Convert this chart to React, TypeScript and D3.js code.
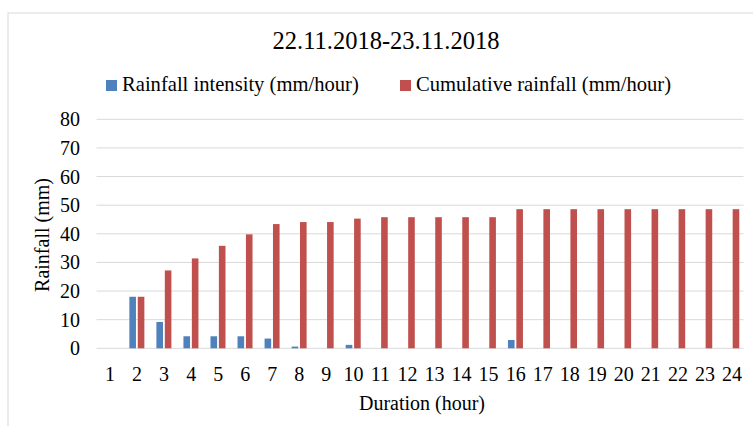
import React from "react";
import * as d3 from "d3";

const hours = ["1","2","3","4","5","6","7","8","9","10","11","12","13","14","15","16","17","18","19","20","21","22","23","24"];
const intensity = [0, 18, 9.2, 4.2, 4.2, 4.2, 3.4, 0.6, 0, 1.2, 0, 0, 0, 0, 0, 2.9, 0, 0, 0, 0, 0, 0, 0, 0];
const cumulative = [0, 18, 27.2, 31.4, 35.8, 39.8, 43.4, 44.1, 44.1, 45.3, 45.8, 45.8, 45.8, 45.8, 45.8, 48.6, 48.6, 48.6, 48.6, 48.6, 48.6, 48.6, 48.6, 48.6];
const yTicks = [0, 10, 20, 30, 40, 50, 60, 70, 80];
const titleText = "22.11.2018-23.11.2018";
const seriesNames = ["Rainfall intensity (mm/hour)", "Cumulative rainfall (mm/hour)"];
const colors = ["#4F81BD", "#C0504D"];

export default function App() {
  const W = 753, H = 426;
  const left = 96.5, right = 745.5, top = 119.3, bottom = 348.3;
  const x = d3.scaleBand().domain(hours).range([left, right]);
  const y = d3.scaleLinear().domain([0, 80]).range([bottom, top]);
  const bw = 6.6;
  const font = "'Liberation Serif', 'Times New Roman', serif";
  return (
    <svg width={W} height={H} style={{ position: "absolute", left: 0, top: 0, background: "#fff" }} fontFamily={font}>
      <rect x={8} y={13} width={W} height={H} fill="#fff" stroke="#d9d9d9" strokeWidth={1} />
      <text x={386} y={49} textAnchor="middle" fontSize={24.5} fill="#000">{titleText}</text>
      {/* legend */}
      <rect x={106} y={80} width={11} height={11} fill={colors[0]} />
      <text x={122} y={91} fontSize={20.6} fill="#000">{seriesNames[0]}</text>
      <rect x={400} y={80} width={11} height={11} fill={colors[1]} />
      <text x={416} y={91} fontSize={20.6} fill="#000">{seriesNames[1]}</text>
      {/* grid */}
      {yTicks.map((t) => (
        <g key={t}>
          <line x1={left} x2={right - 2} y1={y(t)} y2={y(t)} stroke="#d9d9d9" strokeWidth={1} />
          <text x={80} y={y(t)} dy="0.35em" textAnchor="end" fontSize={20} fill="#000">{t}</text>
        </g>
      ))}
      {/* bars */}
      {hours.map((h, i) => {
        const c = (x(h) as number) + x.bandwidth() / 2;
        return (
          <g key={h}>
            {intensity[i] > 0 && (
              <rect x={c - 7.7} y={y(intensity[i])} width={bw} height={bottom - y(intensity[i])} fill={colors[0]} />
            )}
            {cumulative[i] > 0 && (
              <rect x={c + 0.7} y={y(cumulative[i])} width={bw} height={bottom - y(cumulative[i])} fill={colors[1]} />
            )}
            <text x={c} y={381} textAnchor="middle" fontSize={20} fill="#000">{h}</text>
          </g>
        );
      })}
      <text x={422} y={410} textAnchor="middle" fontSize={20} fill="#000">Duration (hour)</text>
      <text transform="translate(49,235) rotate(-90)" textAnchor="middle" fontSize={20} fill="#000">Rainfall (mm)</text>
    </svg>
  );
}
